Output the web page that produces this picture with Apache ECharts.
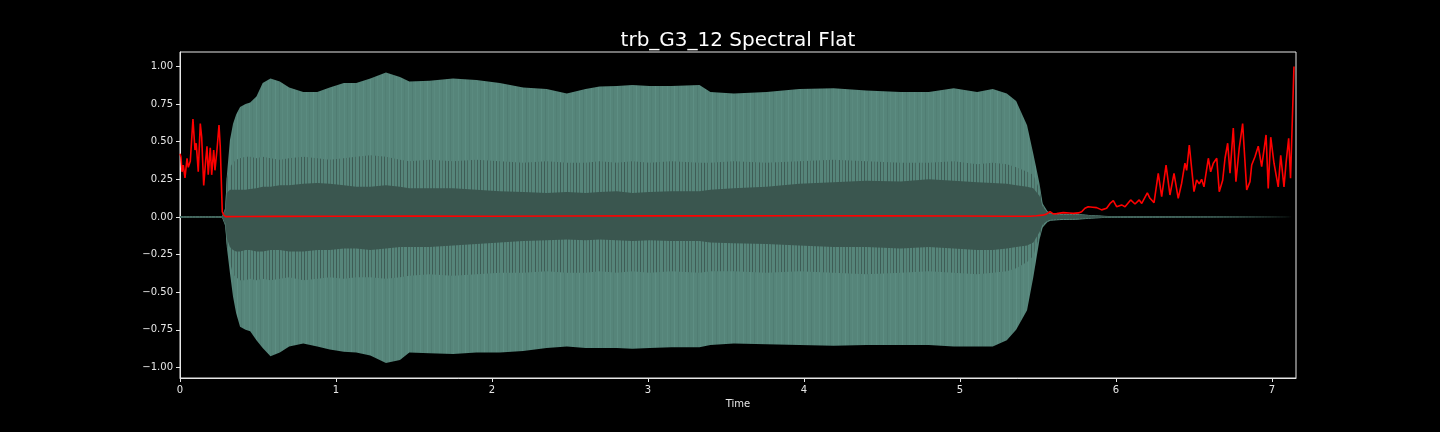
<!DOCTYPE html>
<html>
<head>
<meta charset="utf-8">
<script src="https://cdn.jsdelivr.net/npm/echarts@6/dist/echarts.min.js"></script>
<style>
html,body{margin:0;padding:0;background:#000;}
#chart{width:1440px;height:432px;}
</style>
</head>
<body>
<div id="chart"></div>
<script>
// ---- data ----
const titleText = 'trb_G3_12 Spectral Flat';
const xTicks = [0, 1, 2, 3, 4, 5, 6, 7];
const yTicks = [-1, -0.75, -0.5, -0.25, 0, 0.25, 0.5, 0.75, 1];

// waveform envelope sample times (s)
const envT = [0, 0.27, 0.29, 0.30, 0.32, 0.34, 0.36, 0.385, 0.42, 0.45, 0.49, 0.53, 0.58, 0.64, 0.70, 0.79, 0.88, 0.96, 1.05, 1.13, 1.22, 1.32, 1.41, 1.47, 1.60, 1.75, 1.90, 2.05, 2.20, 2.35, 2.48, 2.60, 2.69, 2.80, 2.90, 3.01, 3.15, 3.33, 3.40, 3.55, 3.76, 3.97, 4.19, 4.40, 4.62, 4.80, 4.96, 5.11, 5.21, 5.30, 5.36, 5.43, 5.47, 5.51, 5.53, 5.56, 5.58, 5.65, 5.75, 5.85, 5.95, 7.154];
// outer (peak) envelope, positive side
const envUp = [0.005, 0.005, 0.06, 0.27, 0.51, 0.62, 0.68, 0.73, 0.75, 0.76, 0.80, 0.89, 0.92, 0.90, 0.86, 0.83, 0.83, 0.86, 0.89, 0.89, 0.92, 0.96, 0.93, 0.90, 0.905, 0.92, 0.91, 0.89, 0.86, 0.85, 0.82, 0.85, 0.866, 0.87, 0.877, 0.87, 0.87, 0.877, 0.83, 0.82, 0.83, 0.85, 0.855, 0.84, 0.83, 0.83, 0.855, 0.83, 0.85, 0.82, 0.77, 0.61, 0.42, 0.22, 0.09, 0.04, 0.027, 0.02, 0.02, 0.012, 0.006, 0.005];
// outer (peak) envelope, negative side
const envLo = [-0.005, -0.005, -0.06, -0.20, -0.37, -0.53, -0.64, -0.73, -0.75, -0.76, -0.82, -0.87, -0.925, -0.90, -0.86, -0.84, -0.86, -0.88, -0.895, -0.90, -0.92, -0.97, -0.95, -0.90, -0.905, -0.91, -0.90, -0.90, -0.89, -0.87, -0.86, -0.87, -0.87, -0.87, -0.875, -0.87, -0.865, -0.865, -0.85, -0.84, -0.845, -0.85, -0.855, -0.85, -0.85, -0.85, -0.86, -0.86, -0.86, -0.82, -0.75, -0.62, -0.40, -0.15, -0.07, -0.035, -0.025, -0.02, -0.018, -0.01, -0.006, -0.005];
// tallest dark spikes, positive / negative side
const spikeUp = [0.004, 0.004, 0.05, 0.26, 0.33, 0.36, 0.38, 0.39, 0.40, 0.40, 0.39, 0.40, 0.39, 0.38, 0.39, 0.40, 0.39, 0.38, 0.39, 0.40, 0.41, 0.40, 0.38, 0.37, 0.38, 0.37, 0.38, 0.37, 0.36, 0.37, 0.36, 0.36, 0.37, 0.36, 0.37, 0.36, 0.37, 0.36, 0.36, 0.37, 0.36, 0.37, 0.38, 0.37, 0.36, 0.36, 0.37, 0.35, 0.36, 0.35, 0.33, 0.30, 0.28, 0.18, 0.08, 0.035, 0.024, 0.018, 0.018, 0.011, 0.005, 0.004];
const spikeLo = [-0.004, -0.004, -0.05, -0.18, -0.30, -0.38, -0.40, -0.42, -0.42, -0.41, -0.42, -0.41, -0.42, -0.41, -0.40, -0.42, -0.41, -0.40, -0.41, -0.40, -0.40, -0.41, -0.40, -0.39, -0.38, -0.39, -0.38, -0.37, -0.37, -0.36, -0.37, -0.37, -0.36, -0.37, -0.36, -0.37, -0.36, -0.37, -0.36, -0.36, -0.37, -0.36, -0.37, -0.38, -0.37, -0.36, -0.37, -0.38, -0.37, -0.36, -0.34, -0.30, -0.26, -0.13, -0.06, -0.03, -0.022, -0.018, -0.016, -0.009, -0.005, -0.004];
// dark inner core, positive / negative side
const innerUp = [0.003, 0.003, 0.04, 0.16, 0.18, 0.18, 0.18, 0.18, 0.18, 0.185, 0.19, 0.20, 0.20, 0.21, 0.21, 0.22, 0.225, 0.22, 0.21, 0.20, 0.20, 0.21, 0.20, 0.19, 0.19, 0.19, 0.18, 0.17, 0.165, 0.16, 0.165, 0.16, 0.165, 0.17, 0.16, 0.165, 0.17, 0.17, 0.18, 0.19, 0.20, 0.22, 0.23, 0.24, 0.235, 0.25, 0.24, 0.23, 0.225, 0.22, 0.21, 0.20, 0.19, 0.14, 0.07, 0.03, 0.02, 0.015, 0.015, 0.009, 0.004, 0.003];
const innerLo = [-0.003, -0.003, -0.04, -0.14, -0.20, -0.22, -0.23, -0.23, -0.22, -0.22, -0.23, -0.23, -0.22, -0.22, -0.23, -0.23, -0.22, -0.22, -0.21, -0.21, -0.22, -0.21, -0.20, -0.20, -0.20, -0.19, -0.18, -0.17, -0.16, -0.155, -0.15, -0.155, -0.15, -0.155, -0.16, -0.155, -0.16, -0.16, -0.17, -0.175, -0.18, -0.19, -0.20, -0.20, -0.21, -0.20, -0.21, -0.22, -0.22, -0.21, -0.20, -0.19, -0.17, -0.10, -0.05, -0.025, -0.018, -0.014, -0.012, -0.007, -0.004, -0.003];

// spectral flatness curve (time s, value)
const flatT = [0, 0.006, 0.013, 0.021, 0.032, 0.045, 0.053, 0.066, 0.083, 0.096, 0.104, 0.117, 0.130, 0.139, 0.152, 0.165, 0.173, 0.181, 0.194, 0.203, 0.216, 0.224, 0.237, 0.250, 0.258, 0.271, 0.280, 0.293, 0.40, 0.60, 1.00, 1.50, 2.00, 2.50, 3.00, 3.50, 4.00, 4.50, 5.00, 5.30, 5.45, 5.49, 5.53, 5.556, 5.577, 5.598, 5.62, 5.662, 5.70, 5.726, 5.76, 5.78, 5.801, 5.822, 5.85, 5.876, 5.908, 5.94, 5.962, 5.983, 6.004, 6.036, 6.058, 6.094, 6.122, 6.149, 6.165, 6.201, 6.218, 6.244, 6.271, 6.293, 6.321, 6.346, 6.372, 6.399, 6.421, 6.442, 6.453, 6.470, 6.500, 6.517, 6.534, 6.549, 6.564, 6.592, 6.607, 6.624, 6.646, 6.662, 6.684, 6.699, 6.716, 6.731, 6.752, 6.769, 6.790, 6.812, 6.838, 6.859, 6.870, 6.891, 6.912, 6.934, 6.962, 6.976, 6.992, 7.013, 7.040, 7.056, 7.077, 7.090, 7.107, 7.119, 7.141];
const flatV = [0.42, 0.40, 0.30, 0.345, 0.26, 0.39, 0.33, 0.37, 0.65, 0.445, 0.49, 0.30, 0.62, 0.53, 0.21, 0.38, 0.47, 0.28, 0.46, 0.28, 0.445, 0.31, 0.445, 0.61, 0.47, 0.035, 0.013, 0.002, 0.003, 0.004, 0.005, 0.006, 0.005, 0.006, 0.007, 0.007, 0.008, 0.007, 0.006, 0.005, 0.005, 0.008, 0.012, 0.02, 0.035, 0.02, 0.022, 0.029, 0.026, 0.024, 0.027, 0.035, 0.058, 0.068, 0.065, 0.062, 0.047, 0.058, 0.09, 0.108, 0.068, 0.08, 0.068, 0.113, 0.086, 0.113, 0.09, 0.16, 0.124, 0.095, 0.29, 0.135, 0.345, 0.146, 0.29, 0.124, 0.224, 0.357, 0.31, 0.478, 0.168, 0.246, 0.22, 0.25, 0.20, 0.39, 0.30, 0.357, 0.39, 0.168, 0.244, 0.39, 0.49, 0.29, 0.59, 0.235, 0.457, 0.62, 0.18, 0.235, 0.345, 0.40, 0.47, 0.334, 0.545, 0.19, 0.53, 0.357, 0.20, 0.41, 0.20, 0.357, 0.523, 0.257, 1.0];

const xMax = 7.154, yMin = -1.07, yMax = 1.096;

// ---- styles ----
const LIGHT = '#56857a', DARK = '#3a564f', FG = '#e6e6e6';
function makePattern(base, lines, w) {
  const c = document.createElement('canvas');
  c.width = w; c.height = 4;
  const g = c.getContext('2d');
  g.fillStyle = base; g.fillRect(0, 0, w, 4);
  lines.forEach(([x, col]) => { g.fillStyle = col; g.fillRect(x, 0, 1, 4); });
  return { image: c, repeat: 'repeat' };
}
const lightPat = makePattern(LIGHT, [[2, '#5b8c81'], [5, '#528075'], [9, '#5d8e83'], [13, '#507d73'], [16, '#5a8a7f']], 19);
const spikePat = makePattern(LIGHT, [[0, '#3e5c55'], [3, '#46685f'], [7, '#3f5d56'], [10, '#4a6d64'], [13, '#405f58']], 16);

function pairs(t, v) { return t.map((x, i) => [x, v[i]]); }
function area(name, vals, color) {
  return {
    name, type: 'line', data: pairs(envT, vals), symbol: 'none', silent: true,
    lineStyle: { width: 0 }, areaStyle: { color, opacity: 1 }, animation: false, z: 2
  };
}

const chart = echarts.init(document.getElementById('chart'), null, { renderer: 'canvas' });
const fmtY = v => (v < 0 ? '\u2212' : '') + Math.abs(v).toFixed(2);
chart.setOption({
  backgroundColor: '#000',
  animation: false,
  title: {
    text: titleText, left: 733, top: 26, textAlign: 'center',
    textStyle: { color: '#ffffff', fontSize: 20, fontWeight: 'normal', fontFamily: 'DejaVu Sans' }
  },
  grid: { left: 180, right: 144, top: 52, bottom: 54, show: true, borderColor: FG, borderWidth: 1, backgroundColor: 'transparent', containLabel: false },
  xAxis: {
    type: 'value', min: 0, max: xMax,
    name: 'Time', nameLocation: 'middle', nameGap: 21,
    nameTextStyle: { color: FG, fontSize: 10, fontFamily: 'DejaVu Sans' },
    axisLine: { show: true, onZero: false, lineStyle: { color: FG, width: 1 } },
    axisTick: { show: true, length: 4, customValues: xTicks, lineStyle: { color: FG } },
    axisLabel: { customValues: xTicks, color: FG, fontSize: 10, fontFamily: 'DejaVu Sans', margin: 7, formatter: v => String(v) },
    splitLine: { show: false }
  },
  yAxis: {
    type: 'value', min: yMin, max: yMax,
    axisLine: { show: true, onZero: false, lineStyle: { color: FG, width: 1 } },
    axisTick: { show: true, length: 4, customValues: yTicks, lineStyle: { color: FG } },
    axisLabel: { customValues: yTicks, color: FG, fontSize: 10, fontFamily: 'DejaVu Sans', margin: 7, formatter: fmtY },
    splitLine: { show: false }
  },
  series: [
    area('outerUp', envUp, lightPat),
    area('outerLo', envLo, lightPat),
    area('spikeUp', spikeUp, spikePat),
    area('spikeLo', spikeLo, spikePat),
    area('innerUp', innerUp, DARK),
    area('innerLo', innerLo, DARK),
    {
      name: 'flatness', type: 'line', data: pairs(flatT, flatV), symbol: 'none', silent: true,
      lineStyle: { color: '#ff0000', width: 1.6 }, animation: false, z: 5
    }
  ]
});
</script>
</body>
</html>
